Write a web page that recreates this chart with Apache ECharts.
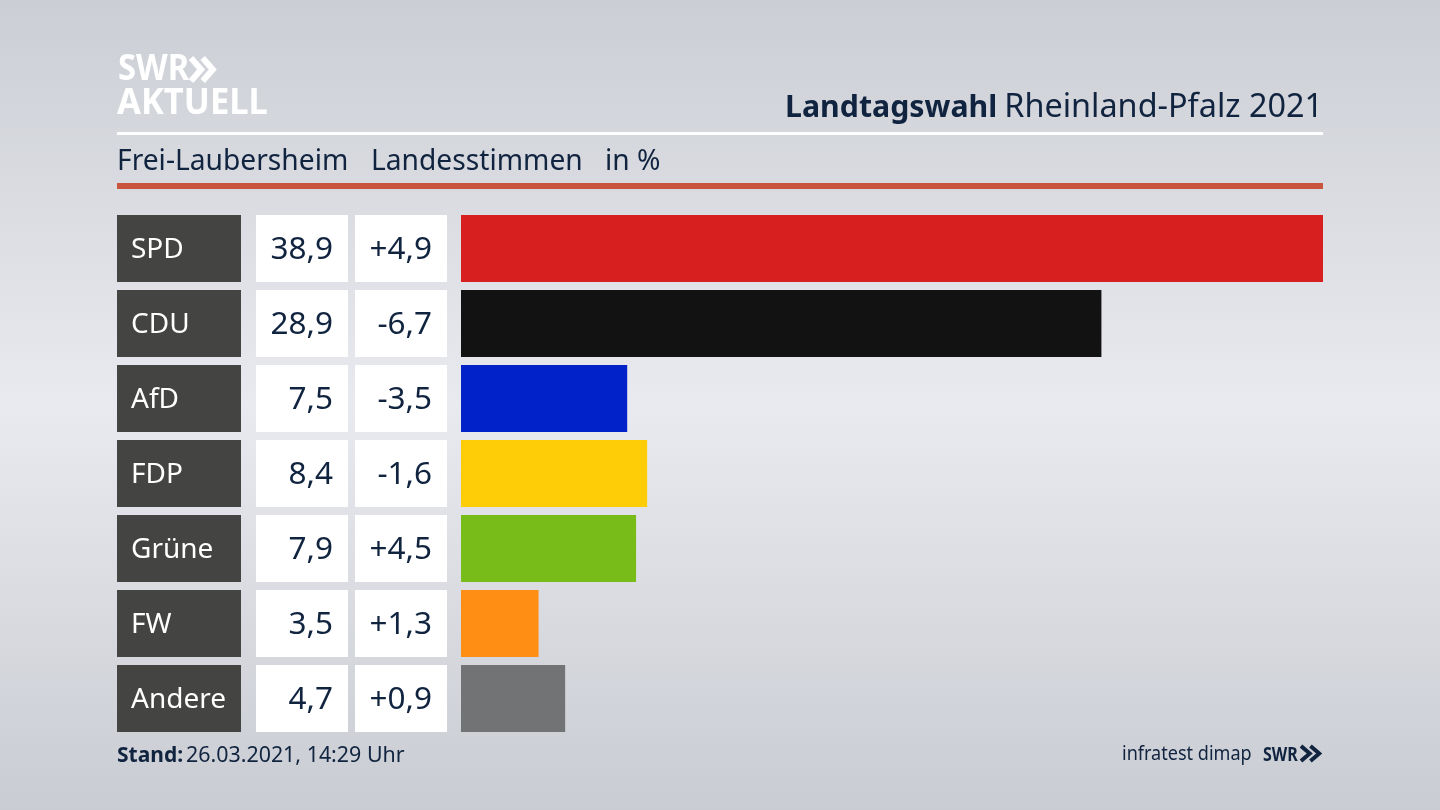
<!DOCTYPE html>
<html>
<head>
<meta charset="utf-8">
<title>Landtagswahl Rheinland-Pfalz 2021</title>
<script src="https://cdn.jsdelivr.net/npm/echarts@6/dist/echarts.min.js"></script>
<style>
    html, body { margin: 0; padding: 0; }
    #chart { width: 1440px; height: 810px; }
</style>
</head>
<body>
<div id="chart"></div>
<script>
const parties = ['SPD', 'CDU', 'AfD', 'FDP', 'Grüne', 'FW', 'Andere'];
const shares = [38.9, 28.9, 7.5, 8.4, 7.9, 3.5, 4.7];
const changes = ['+4,9', '-6,7', '-3,5', '-1,6', '+4,5', '+1,3', '+0,9'];
const partyColors = ['#d71f1f', '#121212', '#0022c8', '#ffcd08', '#78bc1a', '#ff8f14', '#727374'];

const FONT = '"Noto Sans"';
const NAVY = '#10233f';
const GAP = '10.7%';

const chart = echarts.init(document.getElementById('chart'));

function comma(v) {
    return v.toFixed(1).replace('.', ',');
}

function txt(text, x, y, size, opts) {
    return {
        type: 'text',
        x: x,
        y: y,
        scaleX: (opts && opts.scaleX) || 1,
        style: {
            text: text,
            fontFamily: FONT,
            fontSize: size,
            fontWeight: (opts && opts.weight) || 'normal',
            fill: (opts && opts.fill) || NAVY,
            align: (opts && opts.align) || 'left',
            verticalAlign: 'middle'
        }
    };
}

function rule(y, h, color) {
    return { type: 'rect', shape: { x: 117, y: y, width: 1206, height: h }, style: { fill: color } };
}

// the two arrows of the SWR logo
function chevrons(x, y, w, h, lw, color) {
    const one = w * 0.55;
    return [0, w - one].map(function(dx) {
        return {
            type: 'polyline',
            shape: { points: [[x + dx, y], [x + dx + one - lw * 0.7, y + h / 2], [x + dx, y + h]] },
            style: { stroke: color, lineWidth: lw, fill: null }
        };
    });
}

// one column of the table left of the bars, cells are bars over the full axis
function cellGrid(left, width) {
    return { left: left, width: width, top: 211, height: 525 };
}
function cellSeries(idx, color, labels, labelColor, position, size, dist) {
    return {
        type: 'bar',
        xAxisIndex: idx,
        yAxisIndex: idx,
        barCategoryGap: GAP,
        silent: true,
        data: parties.map(function() { return 1; }),
        itemStyle: { color: color },
        label: {
            show: true,
            position: position,
            distance: dist,
            offset: [0, 2],
            color: labelColor,
            fontFamily: FONT,
            fontSize: size,
            formatter: function(p) { return labels[p.dataIndex]; }
        }
    };
}

const grids = [
    { left: 461, width: 862, top: 211, height: 525 },
    cellGrid(117, 124),
    cellGrid(256, 92),
    cellGrid(355, 92)
];

const option = {
    animation: false,
    backgroundColor: {
        type: 'linear', x: 0, y: 0, x2: 0, y2: 1,
        colorStops: [
            { offset: 0, color: '#cbced4' },
            { offset: 0.5, color: '#e9eaef' },
            { offset: 1, color: '#c9ccd2' }
        ]
    },
    grid: grids,
    xAxis: grids.map(function(g, i) {
        return { type: 'value', gridIndex: i, min: 0, max: i === 0 ? 38.9 : 1, show: false };
    }),
    yAxis: grids.map(function(g, i) {
        return { type: 'category', gridIndex: i, data: parties, inverse: true, show: false };
    }),
    series: [
        {
            type: 'bar',
            xAxisIndex: 0,
            yAxisIndex: 0,
            barCategoryGap: GAP,
            data: shares.map(function(v, i) {
                return { value: v, itemStyle: { color: partyColors[i] } };
            })
        },
        cellSeries(1, '#444442', parties, '#ffffff', 'insideLeft', 28, 14),
        cellSeries(2, '#ffffff', shares.map(comma), NAVY, 'insideRight', 31.5, 15),
        cellSeries(3, '#ffffff', changes, NAVY, 'insideRight', 31.5, 15)
    ],
    graphic: [
        rule(132, 3, '#ffffff'),
        rule(183, 6, '#c9553f'),
        txt('SWR', 118, 70, 36, { weight: 'bold', fill: '#ffffff', scaleX: 0.91 }),
        txt('AKTUELL', 117, 104, 36, { weight: 'bold', fill: '#ffffff', scaleX: 0.96 }),
        txt('Landtagswahl', 785, 108, 31, { weight: 'bold', scaleX: 0.977 }),
        txt('Rheinland-Pfalz 2021', 1323, 108, 32.4, { align: 'right' }),
        txt('Frei-Laubersheim', 117, 162, 28.2),
        txt('Landesstimmen', 371, 162, 28.2),
        txt('in %', 605, 162, 28.2),
        txt('Stand:', 117, 756, 21, { weight: 'bold' }),
        txt('26.03.2021, 14:29 Uhr', 186, 756, 21.4),
        txt('infratest dimap', 1122, 755, 19, { scaleX: 0.95 }),
        txt('SWR', 1263, 755, 20, { weight: 'bold', scaleX: 0.8 })
    ].concat(
        chevrons(191, 58, 26, 23, 6, '#ffffff'),
        chevrons(1301, 746, 21, 15, 4, NAVY)
    )
};

option && chart.setOption(option);
</script>
</body>
</html>
